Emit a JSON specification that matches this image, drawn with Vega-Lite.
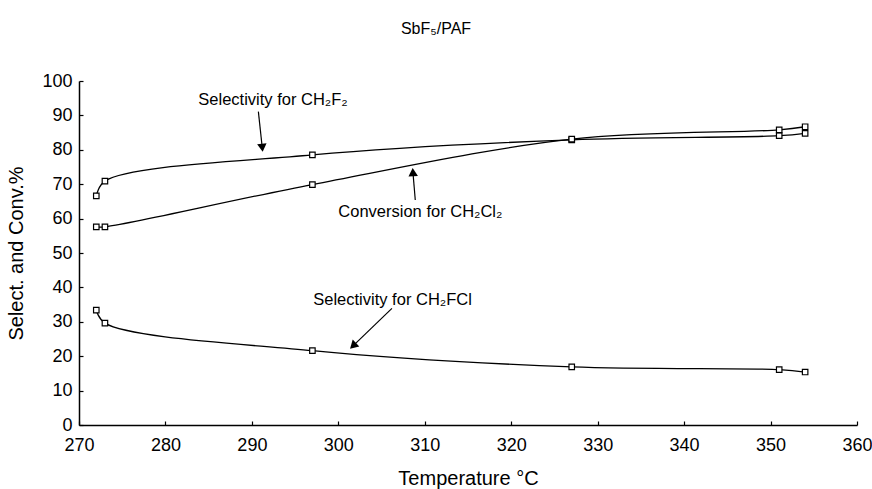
{
  "$schema": "https://vega.github.io/schema/vega-lite/v6.json",
  "width": 778,
  "height": 344,
  "autosize": {"type": "none"},
  "padding": {"left": 79, "top": 81, "right": 15, "bottom": 64},
  "background": "white",
  "title": {"text": "SbF₅/PAF", "fontSize": 16, "fontWeight": "normal", "font": "Liberation Sans", "color": "black", "offset": 35, "dx": -32},
  "config": {
    "view": {"stroke": null},
    "axis": {"grid": false, "domainColor": "black", "tickColor": "black", "labelColor": "black", "titleColor": "black", "labelFont": "Liberation Sans", "titleFont": "Liberation Sans", "labelFontSize": 18, "titleFontSize": 20, "titleFontWeight": "normal", "tickSize": -4, "domainWidth": 1.5, "tickWidth": 1.2, "labelOverlap": false, "labelFlush": false, "labelBound": false}
  },
  "datasets": {
    "series": [
      {"series": "Selectivity for CH2F2", "temp": 272, "value": 66.6},
      {"series": "Selectivity for CH2F2", "temp": 273, "value": 70.9},
      {"series": "Selectivity for CH2F2", "temp": 297, "value": 78.5},
      {"series": "Selectivity for CH2F2", "temp": 327, "value": 82.9},
      {"series": "Selectivity for CH2F2", "temp": 351, "value": 84.1},
      {"series": "Selectivity for CH2F2", "temp": 354, "value": 84.8},
      {"series": "Conversion for CH2Cl2", "temp": 272, "value": 57.6},
      {"series": "Conversion for CH2Cl2", "temp": 273, "value": 57.6},
      {"series": "Conversion for CH2Cl2", "temp": 297, "value": 69.9},
      {"series": "Conversion for CH2Cl2", "temp": 327, "value": 83.1},
      {"series": "Conversion for CH2Cl2", "temp": 351, "value": 85.8},
      {"series": "Conversion for CH2Cl2", "temp": 354, "value": 86.7},
      {"series": "Selectivity for CH2FCl", "temp": 272, "value": 33.4},
      {"series": "Selectivity for CH2FCl", "temp": 273, "value": 29.6},
      {"series": "Selectivity for CH2FCl", "temp": 297, "value": 21.6},
      {"series": "Selectivity for CH2FCl", "temp": 327, "value": 16.9},
      {"series": "Selectivity for CH2FCl", "temp": 351, "value": 16.1},
      {"series": "Selectivity for CH2FCl", "temp": 354, "value": 15.4}
    ],
    "arrows": [
      {"x": 290.75, "y": 91.1, "x2": 291.2, "y2": 80.6, "angle": 174},
      {"x": 308.9, "y": 65.4, "x2": 308.63, "y2": 73.5, "angle": -4},
      {"x": 306.2, "y": 33.9, "x2": 301.7, "y2": 23.0, "angle": 226}
    ],
    "labels": [
      {"label": "Selectivity for CH₂F₂", "x": 283.8, "y": 94.5},
      {"label": "Conversion for CH₂Cl₂", "x": 300.0, "y": 62.0},
      {"label": "Selectivity for CH₂FCl", "x": 297.1, "y": 36.3}
    ]
  },
  "layer": [
    {
      "data": {"name": "series"},
      "mark": {"type": "line", "interpolate": "catmull-rom", "color": "black", "strokeWidth": 1.3},
      "encoding": {
        "x": {"field": "temp", "type": "quantitative", "scale": {"domain": [270, 360], "nice": false, "zero": false}, "axis": {"values": [270, 280, 290, 300, 310, 320, 330, 340, 350, 360], "title": "Temperature °C", "titlePadding": 14, "labelPadding": 15, "labelOverlap": false}},
        "y": {"field": "value", "type": "quantitative", "scale": {"domain": [0, 100], "nice": false}, "axis": {"values": [0, 10, 20, 30, 40, 50, 60, 70, 80, 90, 100], "tickCount": 11, "title": "Select. and Conv.%", "titlePadding": 15, "labelPadding": 11, "labelOverlap": false}},
        "detail": {"field": "series"}
      }
    },
    {
      "data": {"name": "series"},
      "mark": {"type": "point", "shape": "square", "filled": true, "fill": "white", "stroke": "black", "strokeWidth": 1.2, "size": 30, "opacity": 1},
      "encoding": {
        "x": {"field": "temp", "type": "quantitative"},
        "y": {"field": "value", "type": "quantitative"}
      }
    },
    {
      "data": {"name": "arrows"},
      "mark": {"type": "rule", "color": "black", "strokeWidth": 1.2},
      "encoding": {
        "x": {"field": "x", "type": "quantitative"},
        "y": {"field": "y", "type": "quantitative"},
        "x2": {"field": "x2"},
        "y2": {"field": "y2"}
      }
    },
    {
      "data": {"name": "arrows"},
      "mark": {"type": "point", "shape": "triangle-up", "filled": true, "color": "black", "size": 90, "opacity": 1},
      "encoding": {
        "x": {"field": "x2", "type": "quantitative"},
        "y": {"field": "y2", "type": "quantitative"},
        "angle": {"field": "angle", "type": "quantitative", "scale": null}
      }
    },
    {
      "data": {"name": "labels"},
      "mark": {"type": "text", "align": "left", "baseline": "middle", "font": "Liberation Sans", "fontSize": 16.5, "color": "black"},
      "encoding": {
        "x": {"field": "x", "type": "quantitative"},
        "y": {"field": "y", "type": "quantitative"},
        "text": {"field": "label"}
      }
    }
  ]
}
